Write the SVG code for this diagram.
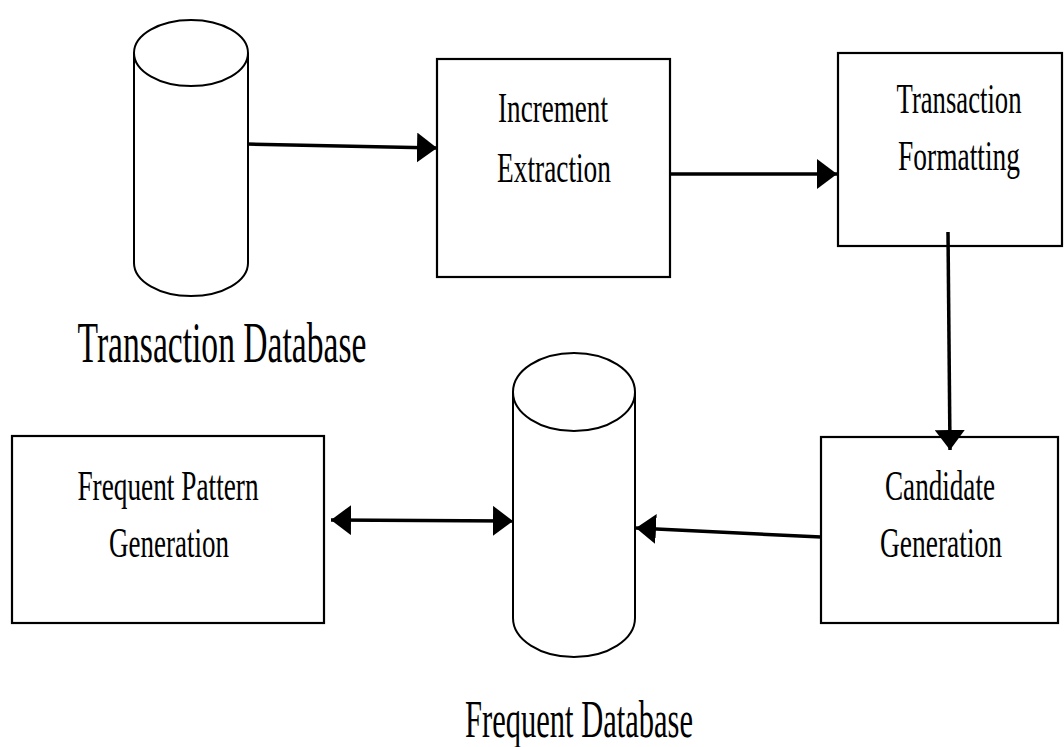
<svg xmlns="http://www.w3.org/2000/svg" width="1064" height="747" viewBox="0 0 1064 747">
<style>
.box{fill:#fff;stroke:#000;stroke-width:2.2}
.cyl{fill:#fff;stroke:#000;stroke-width:2}
.lbl{font-family:"Liberation Serif","Times New Roman",serif;font-size:42px;fill:#000;text-anchor:middle}
.big{font-family:"Liberation Serif","Times New Roman",serif;fill:#000;text-anchor:middle}
.conn{stroke:#000;stroke-width:3.5;fill:none}
</style>
<defs>
<marker id="ah" viewBox="0 0 20 30" refX="20" refY="15" markerWidth="20" markerHeight="30" markerUnits="userSpaceOnUse" orient="auto-start-reverse">
<path d="M0,0 L20,15 L0,30 z" fill="#000"/>
</marker>
</defs>
<rect width="1064" height="747" fill="#fff"/>

<g id="transaction-database">
<path class="cyl" d="M134,53 L134,263 A57,33 0 0 0 248,263 L248,53"/>
<ellipse class="cyl" cx="191" cy="53" rx="57" ry="33"/>
<text class="big" font-size="56" transform="translate(222,362) scale(0.6,1)">Transaction Database</text>
</g>

<g id="increment-extraction">
<rect class="box" x="437" y="59" width="233" height="218"/>
<text class="lbl" transform="translate(553,122) scale(0.646,1)">Increment</text>
<text class="lbl" transform="translate(554,182) scale(0.651,1)">Extraction</text>
</g>

<g id="transaction-formatting">
<rect class="box" x="838" y="53" width="224" height="193"/>
<text class="lbl" transform="translate(959,113) scale(0.635,1)">Transaction</text>
<text class="lbl" transform="translate(959,170) scale(0.653,1)">Formatting</text>
</g>

<g id="candidate-generation">
<rect class="box" x="821" y="437" width="237" height="186"/>
<text class="lbl" transform="translate(940,500) scale(0.646,1)">Candidate</text>
<text class="lbl" transform="translate(941,557) scale(0.654,1)">Generation</text>
</g>

<g id="frequent-database">
<path class="cyl" d="M513,392 L513,618 A61,39 0 0 0 635,618 L635,392"/>
<ellipse class="cyl" cx="574" cy="392" rx="61" ry="39"/>
<text class="big" font-size="52" transform="translate(579,737) scale(0.587,1)">Frequent Database</text>
</g>

<g id="frequent-pattern-generation">
<rect class="box" x="12" y="436" width="312" height="187"/>
<text class="lbl" transform="translate(168,500) scale(0.65,1)">Frequent Pattern</text>
<text class="lbl" transform="translate(169,557) scale(0.643,1)">Generation</text>
</g>

<g id="connectors">
<line class="conn" x1="247" y1="144" x2="437" y2="148" marker-end="url(#ah)"/>
<line class="conn" x1="670" y1="174" x2="837" y2="174" marker-end="url(#ah)"/>
<line class="conn" x1="948" y1="232" x2="950" y2="450" marker-end="url(#ah)"/>
<line class="conn" x1="821" y1="537" x2="636" y2="528" marker-end="url(#ah)"/>
<line class="conn" x1="331" y1="520" x2="513" y2="521" marker-start="url(#ah)" marker-end="url(#ah)"/>
</g>
</svg>
